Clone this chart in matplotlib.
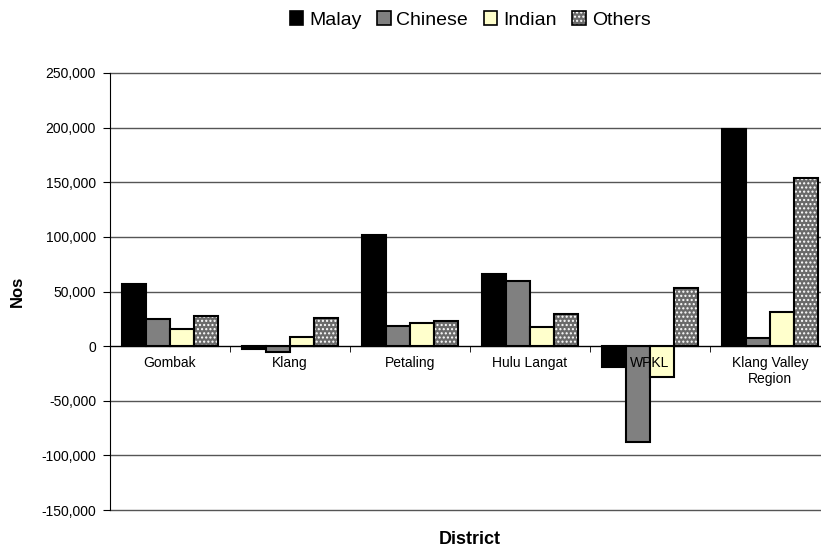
import matplotlib
matplotlib.use("Agg")
import matplotlib.pyplot as plt
import matplotlib.patches as mpatches
import numpy as np

plt.rcParams['font.family'] = ['Liberation Sans', 'DejaVu Sans']

# values
districts = ["Gombak", "Klang", "Petaling", "Hulu Langat", "WPKL", "Klang Valley\nRegion"]
malay = [57000, -3000, 101500, 66000, -19500, 199000]
chinese = [24700, -5000, 18300, 60000, -88000, 7000]
indian = [15600, 8000, 21000, 17700, -28700, 31400]
others = [27500, 25600, 22600, 29000, 53400, 154000]
series_names = ["Malay", "Chinese", "Indian", "Others"]
yticks = np.arange(-150000, 250001, 50000)

fig = plt.figure(figsize=(8.21, 5.49), dpi=100)
ax = fig.add_axes([110/821, 39/549, 720/821, 437/549])

x = np.arange(len(districts))
w = 0.2
EDGE = dict(edgecolor='black', linewidth=1.5)

for yv in yticks:
    ax.axhline(yv, color='#555555', linewidth=1, zorder=0, clip_on=False)

ax.bar(x - 1.5*w, malay, w, color='black', zorder=1, **EDGE)
ax.bar(x - 0.5*w, chinese, w, color='#808080', zorder=1, **EDGE)
ax.bar(x + 0.5*w, indian, w, color='#FFFFCC', zorder=1, **EDGE)
# patterned bars: gray base with white dots, then black outline
ax.bar(x + 1.5*w, others, w, color='#6a6a6a', edgecolor='white', hatch='....',
       linewidth=0, zorder=1)
ax.bar(x + 1.5*w, others, w, fill=False, edgecolor='black', linewidth=1.5, zorder=1.5)

ax.set_xlim(-0.5, len(districts) - 0.5)
ax.set_ylim(-150000, 250000)
ax.set_yticks(yticks)
ax.set_yticklabels([f"{v:,}" for v in yticks], fontsize=10)
ax.tick_params(axis='y', direction='out', length=5, pad=5)

ax.spines['bottom'].set_position(('data', 0))
ax.spines['top'].set_visible(False)
ax.spines['right'].set_visible(False)
ax.set_xticks(x)
ax.set_xticklabels(districts, fontsize=10)
ax.set_xticks(np.arange(len(districts)) + 0.5, minor=True)
ax.tick_params(axis='x', which='major', length=0, pad=7)
ax.tick_params(axis='x', which='minor', direction='out', length=4)

ax.set_ylabel("Nos", fontsize=12, fontweight='bold', labelpad=12)
fig.text(470/821, 1 - 540/549, "District", ha='center', va='center',
         fontsize=13, fontweight='bold')

# legend with patterned handle for Others
hp = mpatches.Patch(facecolor='#6a6a6a', edgecolor='white', hatch='....', linewidth=0)
ho = mpatches.Patch(fill=False, edgecolor='black', linewidth=1.2)
leg_handles = [
    mpatches.Patch(facecolor='black', edgecolor='black', linewidth=1.2),
    mpatches.Patch(facecolor='#808080', edgecolor='black', linewidth=1.2),
    mpatches.Patch(facecolor='#FFFFCC', edgecolor='black', linewidth=1.2),
    (hp, ho),
]
fig.legend(leg_handles, series_names, loc='center', bbox_to_anchor=(470/821, 1 - 20/549),
           ncol=4, frameon=False, fontsize=14, handlelength=0.7, handleheight=0.7,
           handletextpad=0.3, columnspacing=0.8)

fig.savefig("out.png", dpi=100)
